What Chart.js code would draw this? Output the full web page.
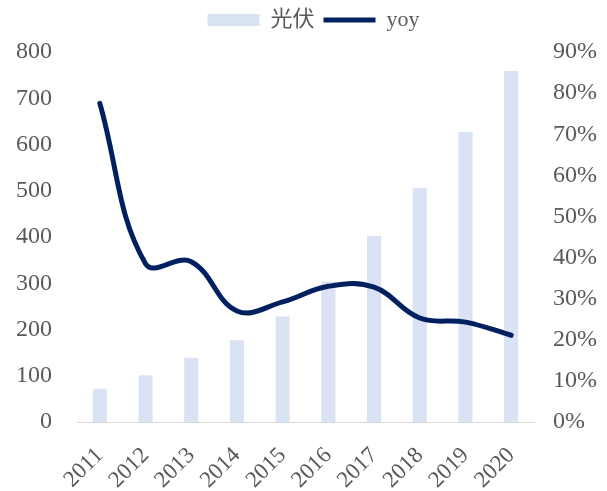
<!DOCTYPE html>
<html><head><meta charset="utf-8">
<script src="https://cdn.jsdelivr.net/npm/chart.js@4"></script>
<style>html,body{margin:0;padding:0;background:#fff}#w{width:607px;height:491px}</style>
</head><body><div id="w"><canvas id="c"></canvas></div>
<script>
const categories = ['2011','2012','2013','2014','2015','2016','2017','2018','2019','2020'];
const pvValues = [72, 101, 139, 177, 228, 304, 402, 506, 627, 759];
const yoyValues = [77.5, 38.5, 39, 27, 29.2, 33, 32.8, 25.3, 24.3, 21.1];
const leftTicks = [0,100,200,300,400,500,600,700,800];
const rightTicks = [0,10,20,30,40,50,60,70,80,90];

const FONT = "'Liberation Serif','Times New Roman','Noto Sans CJK SC',serif";
const GRAY = '#595959';
const BAR = '#DAE3F3';
const NAVY = '#002060';

const legendTweak = {
  id:'legendTweak',
  beforeLayout(chart){
    const lg = chart.legend;
    if (!lg || lg._tweaked) return;
    lg._tweaked = true;
    const fit = lg.fit.bind(lg);
    lg.fit = function(){ fit(); this.height += 11; };
    const draw = lg.draw.bind(lg);
    lg.draw = function(){ const c = this.ctx; c.save(); c.translate(10,0); draw(); c.restore(); };
  }
};

new Chart(document.getElementById('c'), {
  data: {
    labels: categories,
    datasets: [
      { type:'line', label:'yoy', data: yoyValues, yAxisID:'y1', borderColor:NAVY, backgroundColor:NAVY,
        borderWidth:5, pointRadius:0, tension:0.4, borderCapStyle:'round', order:0 },
      { type:'bar', label:'光伏', data: pvValues, yAxisID:'y', backgroundColor:BAR,
        categoryPercentage:1, barPercentage:0.31, order:1 }
    ]
  },
  plugins:[legendTweak],
  options: {
    responsive:true, maintainAspectRatio:false, animation:false,
    layout:{ padding:{ top:0, left:0, right:0, bottom:0 } },
    plugins:{
      tooltip:{enabled:false},
      legend:{
        position:'top',
        labels:{
          font:{family:FONT,size:22}, color:GRAY, usePointStyle:true, pointStyleWidth:52, boxHeight:12, padding:9,
          generateLabels(chart){
            return [
              {text:'光伏', fillStyle:BAR, strokeStyle:BAR, lineWidth:0, pointStyle:'rect', datasetIndex:1, fontColor:GRAY},
              {text:'yoy', fillStyle:NAVY, strokeStyle:NAVY, lineWidth:5, pointStyle:'line', datasetIndex:0, fontColor:GRAY}
            ];
          }
        }
      }
    },
    scales:{
      x:{
        grid:{display:false, drawTicks:false},
        border:{display:true, color:'#D9D9D9', width:1},
        ticks:{font:{family:FONT,size:23}, color:GRAY, maxRotation:45, minRotation:45, padding:20, autoSkip:false},
        afterFit(s){ s.height = 69; }
      },
      y:{
        position:'left', min:0, max:800,
        afterBuildTicks(s){ s.ticks = leftTicks.map(v=>({value:v})); },
        grid:{display:false, drawTicks:false}, border:{display:false},
        ticks:{font:{family:FONT,size:24}, color:GRAY, padding:25},
        afterFit(s){ s.width = 77; }
      },
      y1:{
        position:'right', min:0, max:90,
        afterBuildTicks(s){ s.ticks = rightTicks.map(v=>({value:v})); },
        grid:{display:false, drawTicks:false}, border:{display:false},
        ticks:{font:{family:FONT,size:24}, color:GRAY, padding:19, callback:v=>v+'%'},
        afterFit(s){ s.width = 73; }
      }
    }
  }
});
</script></body></html>
